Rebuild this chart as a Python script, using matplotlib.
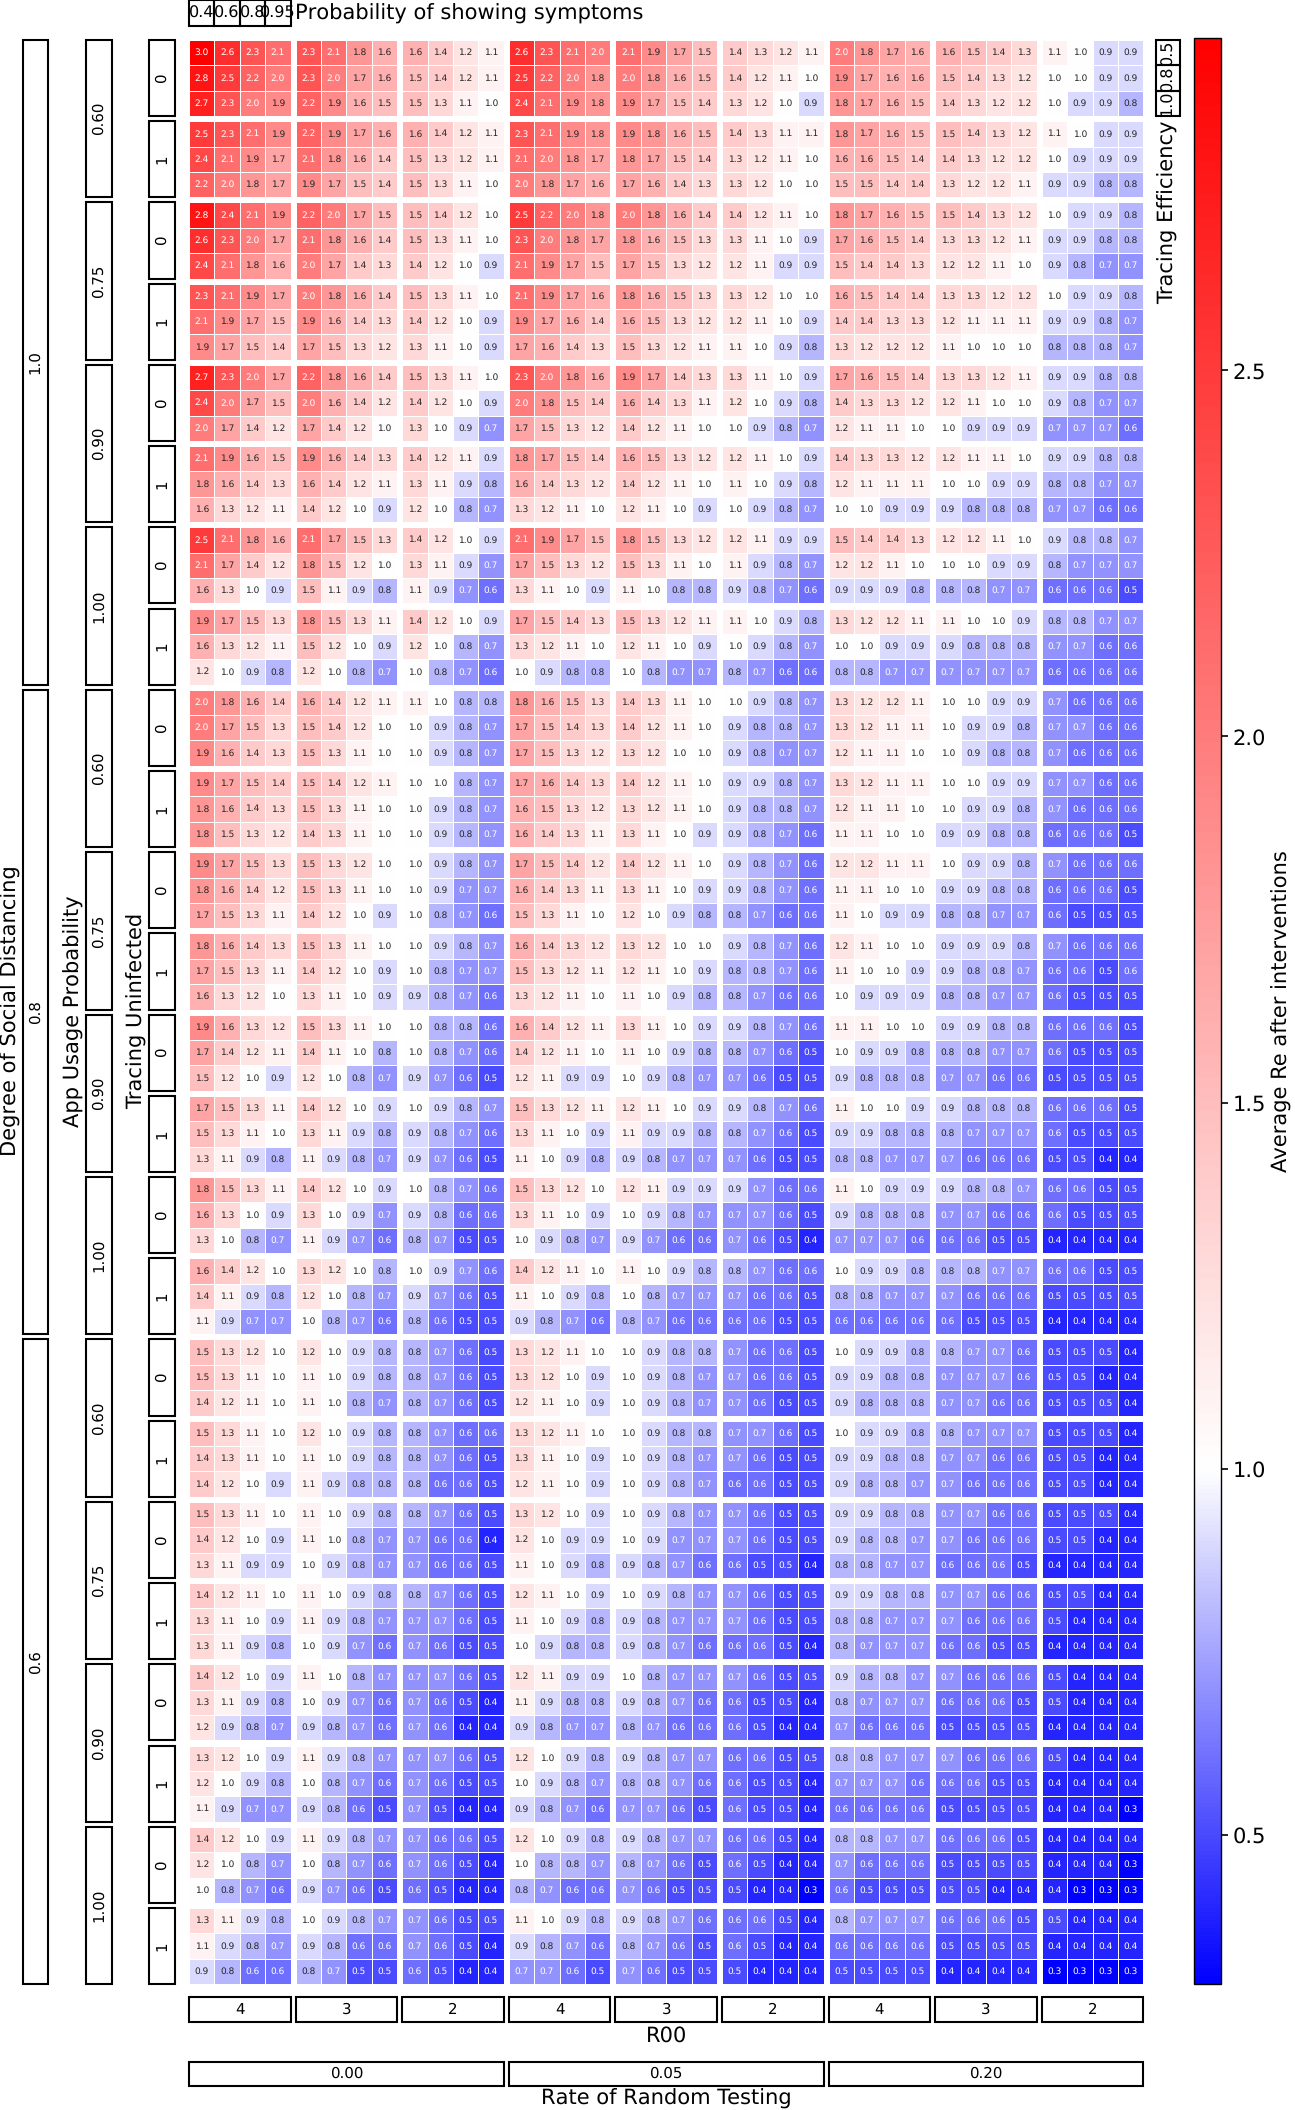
import numpy as np
import matplotlib
matplotlib.use('Agg')
import matplotlib.pyplot as plt
from matplotlib.colors import TwoSlopeNorm
from matplotlib.patches import Rectangle

plt.rcParams['text.hinting'] = 'no_hinting'
plt.rcParams['text.hinting_factor'] = 1

# values, 18 rows x 12 columns per chunk
re_a1 = [
[3.0,2.6,2.3,2.1,2.3,2.1,1.8,1.6,1.6,1.4,1.2,1.1],
[2.8,2.5,2.2,2.0,2.3,2.0,1.7,1.6,1.5,1.4,1.2,1.1],
[2.7,2.3,2.0,1.9,2.2,1.9,1.6,1.5,1.5,1.3,1.1,1.0],
[2.5,2.3,2.1,1.9,2.2,1.9,1.7,1.6,1.6,1.4,1.2,1.1],
[2.4,2.1,1.9,1.7,2.1,1.8,1.6,1.4,1.5,1.3,1.2,1.1],
[2.2,2.0,1.8,1.7,1.9,1.7,1.5,1.4,1.5,1.3,1.1,1.0],
[2.8,2.4,2.1,1.9,2.2,2.0,1.7,1.5,1.5,1.4,1.2,1.0],
[2.6,2.3,2.0,1.7,2.1,1.8,1.6,1.4,1.5,1.3,1.1,1.0],
[2.4,2.1,1.8,1.6,2.0,1.7,1.4,1.3,1.4,1.2,1.0,0.9],
[2.3,2.1,1.9,1.7,2.0,1.8,1.6,1.4,1.5,1.3,1.1,1.0],
[2.1,1.9,1.7,1.5,1.9,1.6,1.4,1.3,1.4,1.2,1.0,0.9],
[1.9,1.7,1.5,1.4,1.7,1.5,1.3,1.2,1.3,1.1,1.0,0.9],
[2.7,2.3,2.0,1.7,2.2,1.8,1.6,1.4,1.5,1.3,1.1,1.0],
[2.4,2.0,1.7,1.5,2.0,1.6,1.4,1.2,1.4,1.2,1.0,0.9],
[2.0,1.7,1.4,1.2,1.7,1.4,1.2,1.0,1.3,1.0,0.9,0.7],
[2.1,1.9,1.6,1.5,1.9,1.6,1.4,1.3,1.4,1.2,1.1,0.9],
[1.8,1.6,1.4,1.3,1.6,1.4,1.2,1.1,1.3,1.1,0.9,0.8],
[1.6,1.3,1.2,1.1,1.4,1.2,1.0,0.9,1.2,1.0,0.8,0.7],
]
re_a2 = [
[2.6,2.3,2.1,2.0,2.1,1.9,1.7,1.5,1.4,1.3,1.2,1.1],
[2.5,2.2,2.0,1.8,2.0,1.8,1.6,1.5,1.4,1.2,1.1,1.0],
[2.4,2.1,1.9,1.8,1.9,1.7,1.5,1.4,1.3,1.2,1.0,0.9],
[2.3,2.1,1.9,1.8,1.9,1.8,1.6,1.5,1.4,1.3,1.1,1.1],
[2.1,2.0,1.8,1.7,1.8,1.7,1.5,1.4,1.3,1.2,1.1,1.0],
[2.0,1.8,1.7,1.6,1.7,1.6,1.4,1.3,1.3,1.2,1.0,1.0],
[2.5,2.2,2.0,1.8,2.0,1.8,1.6,1.4,1.4,1.2,1.1,1.0],
[2.3,2.0,1.8,1.7,1.8,1.6,1.5,1.3,1.3,1.1,1.0,0.9],
[2.1,1.9,1.7,1.5,1.7,1.5,1.3,1.2,1.2,1.1,0.9,0.9],
[2.1,1.9,1.7,1.6,1.8,1.6,1.5,1.3,1.3,1.2,1.0,1.0],
[1.9,1.7,1.6,1.4,1.6,1.5,1.3,1.2,1.2,1.1,1.0,0.9],
[1.7,1.6,1.4,1.3,1.5,1.3,1.2,1.1,1.1,1.0,0.9,0.8],
[2.3,2.0,1.8,1.6,1.9,1.7,1.4,1.3,1.3,1.1,1.0,0.9],
[2.0,1.8,1.5,1.4,1.6,1.4,1.3,1.1,1.2,1.0,0.9,0.8],
[1.7,1.5,1.3,1.2,1.4,1.2,1.1,1.0,1.0,0.9,0.8,0.7],
[1.8,1.7,1.5,1.4,1.6,1.5,1.3,1.2,1.2,1.1,1.0,0.9],
[1.6,1.4,1.3,1.2,1.4,1.2,1.1,1.0,1.1,1.0,0.9,0.8],
[1.3,1.2,1.1,1.0,1.2,1.1,1.0,0.9,1.0,0.9,0.8,0.7],
]
re_a3 = [
[2.0,1.8,1.7,1.6,1.6,1.5,1.4,1.3,1.1,1.0,0.9,0.9],
[1.9,1.7,1.6,1.6,1.5,1.4,1.3,1.2,1.0,1.0,0.9,0.9],
[1.8,1.7,1.6,1.5,1.4,1.3,1.2,1.2,1.0,0.9,0.9,0.8],
[1.8,1.7,1.6,1.5,1.5,1.4,1.3,1.2,1.1,1.0,0.9,0.9],
[1.6,1.6,1.5,1.4,1.4,1.3,1.2,1.2,1.0,0.9,0.9,0.9],
[1.5,1.5,1.4,1.4,1.3,1.2,1.2,1.1,0.9,0.9,0.8,0.8],
[1.8,1.7,1.6,1.5,1.5,1.4,1.3,1.2,1.0,0.9,0.9,0.8],
[1.7,1.6,1.5,1.4,1.3,1.3,1.2,1.1,0.9,0.9,0.8,0.8],
[1.5,1.4,1.4,1.3,1.2,1.2,1.1,1.0,0.9,0.8,0.7,0.7],
[1.6,1.5,1.4,1.4,1.3,1.3,1.2,1.2,1.0,0.9,0.9,0.8],
[1.4,1.4,1.3,1.3,1.2,1.1,1.1,1.1,0.9,0.9,0.8,0.7],
[1.3,1.2,1.2,1.2,1.1,1.0,1.0,1.0,0.8,0.8,0.8,0.7],
[1.7,1.6,1.5,1.4,1.3,1.3,1.2,1.1,0.9,0.9,0.8,0.8],
[1.4,1.3,1.3,1.2,1.2,1.1,1.0,1.0,0.9,0.8,0.7,0.7],
[1.2,1.1,1.1,1.0,1.0,0.9,0.9,0.9,0.7,0.7,0.7,0.6],
[1.4,1.3,1.3,1.2,1.2,1.1,1.1,1.0,0.9,0.9,0.8,0.8],
[1.2,1.1,1.1,1.1,1.0,1.0,0.9,0.9,0.8,0.8,0.7,0.7],
[1.0,1.0,0.9,0.9,0.9,0.8,0.8,0.8,0.7,0.7,0.6,0.6],
]
re_b1 = [
[2.5,2.1,1.8,1.6,2.1,1.7,1.5,1.3,1.4,1.2,1.0,0.9],
[2.1,1.7,1.4,1.2,1.8,1.5,1.2,1.0,1.3,1.1,0.9,0.7],
[1.6,1.3,1.0,0.9,1.5,1.1,0.9,0.8,1.1,0.9,0.7,0.6],
[1.9,1.7,1.5,1.3,1.8,1.5,1.3,1.1,1.4,1.2,1.0,0.9],
[1.6,1.3,1.2,1.1,1.5,1.2,1.0,0.9,1.2,1.0,0.8,0.7],
[1.2,1.0,0.9,0.8,1.2,1.0,0.8,0.7,1.0,0.8,0.7,0.6],
[2.0,1.8,1.6,1.4,1.6,1.4,1.2,1.1,1.1,1.0,0.8,0.8],
[2.0,1.7,1.5,1.3,1.5,1.4,1.2,1.0,1.0,0.9,0.8,0.7],
[1.9,1.6,1.4,1.3,1.5,1.3,1.1,1.0,1.0,0.9,0.8,0.7],
[1.9,1.7,1.5,1.4,1.5,1.4,1.2,1.1,1.0,1.0,0.8,0.7],
[1.8,1.6,1.4,1.3,1.5,1.3,1.1,1.0,1.0,0.9,0.8,0.7],
[1.8,1.5,1.3,1.2,1.4,1.3,1.1,1.0,1.0,0.9,0.8,0.7],
[1.9,1.7,1.5,1.3,1.5,1.3,1.2,1.0,1.0,0.9,0.8,0.7],
[1.8,1.6,1.4,1.2,1.5,1.3,1.1,1.0,1.0,0.9,0.7,0.7],
[1.7,1.5,1.3,1.1,1.4,1.2,1.0,0.9,1.0,0.8,0.7,0.6],
[1.8,1.6,1.4,1.3,1.5,1.3,1.1,1.0,1.0,0.9,0.8,0.7],
[1.7,1.5,1.3,1.1,1.4,1.2,1.0,0.9,1.0,0.8,0.7,0.7],
[1.6,1.3,1.2,1.0,1.3,1.1,1.0,0.9,0.9,0.8,0.7,0.6],
]
re_b2 = [
[2.1,1.9,1.7,1.5,1.8,1.5,1.3,1.2,1.2,1.1,0.9,0.9],
[1.7,1.5,1.3,1.2,1.5,1.3,1.1,1.0,1.1,0.9,0.8,0.7],
[1.3,1.1,1.0,0.9,1.1,1.0,0.8,0.8,0.9,0.8,0.7,0.6],
[1.7,1.5,1.4,1.3,1.5,1.3,1.2,1.1,1.1,1.0,0.9,0.8],
[1.3,1.2,1.1,1.0,1.2,1.1,1.0,0.9,1.0,0.9,0.8,0.7],
[1.0,0.9,0.8,0.8,1.0,0.8,0.7,0.7,0.8,0.7,0.6,0.6],
[1.8,1.6,1.5,1.3,1.4,1.3,1.1,1.0,1.0,0.9,0.8,0.7],
[1.7,1.5,1.4,1.3,1.4,1.2,1.1,1.0,0.9,0.8,0.8,0.7],
[1.7,1.5,1.3,1.2,1.3,1.2,1.0,1.0,0.9,0.8,0.7,0.7],
[1.7,1.6,1.4,1.3,1.4,1.2,1.1,1.0,0.9,0.9,0.8,0.7],
[1.6,1.5,1.3,1.2,1.3,1.2,1.1,1.0,0.9,0.8,0.8,0.7],
[1.6,1.4,1.3,1.1,1.3,1.1,1.0,0.9,0.9,0.8,0.7,0.6],
[1.7,1.5,1.4,1.2,1.4,1.2,1.1,1.0,0.9,0.8,0.7,0.6],
[1.6,1.4,1.3,1.1,1.3,1.1,1.0,0.9,0.9,0.8,0.7,0.6],
[1.5,1.3,1.1,1.0,1.2,1.0,0.9,0.8,0.8,0.7,0.6,0.6],
[1.6,1.4,1.3,1.2,1.3,1.2,1.0,1.0,0.9,0.8,0.7,0.6],
[1.5,1.3,1.2,1.1,1.2,1.1,1.0,0.9,0.8,0.8,0.7,0.6],
[1.3,1.2,1.1,1.0,1.1,1.0,0.9,0.8,0.8,0.7,0.6,0.6],
]
re_b3 = [
[1.5,1.4,1.4,1.3,1.2,1.2,1.1,1.0,0.9,0.8,0.8,0.7],
[1.2,1.2,1.1,1.0,1.0,1.0,0.9,0.9,0.8,0.7,0.7,0.7],
[0.9,0.9,0.9,0.8,0.8,0.8,0.7,0.7,0.6,0.6,0.6,0.5],
[1.3,1.2,1.2,1.1,1.1,1.0,1.0,0.9,0.8,0.8,0.7,0.7],
[1.0,1.0,0.9,0.9,0.9,0.8,0.8,0.8,0.7,0.7,0.6,0.6],
[0.8,0.8,0.7,0.7,0.7,0.7,0.7,0.7,0.6,0.6,0.6,0.6],
[1.3,1.2,1.2,1.1,1.0,1.0,0.9,0.9,0.7,0.6,0.6,0.6],
[1.3,1.2,1.1,1.1,1.0,0.9,0.9,0.8,0.7,0.7,0.6,0.6],
[1.2,1.1,1.1,1.0,1.0,0.9,0.8,0.8,0.7,0.6,0.6,0.6],
[1.3,1.2,1.1,1.1,1.0,1.0,0.9,0.9,0.7,0.7,0.6,0.6],
[1.2,1.1,1.1,1.0,1.0,0.9,0.9,0.8,0.7,0.6,0.6,0.6],
[1.1,1.1,1.0,1.0,0.9,0.9,0.8,0.8,0.6,0.6,0.6,0.5],
[1.2,1.2,1.1,1.1,1.0,0.9,0.9,0.8,0.7,0.6,0.6,0.6],
[1.1,1.1,1.0,1.0,0.9,0.9,0.8,0.8,0.6,0.6,0.6,0.5],
[1.1,1.0,0.9,0.9,0.8,0.8,0.7,0.7,0.6,0.5,0.5,0.5],
[1.2,1.1,1.0,1.0,0.9,0.9,0.9,0.8,0.7,0.6,0.6,0.6],
[1.1,1.0,1.0,0.9,0.9,0.8,0.8,0.7,0.6,0.6,0.5,0.6],
[1.0,0.9,0.9,0.9,0.8,0.8,0.7,0.7,0.6,0.5,0.5,0.5],
]
re_c1 = [
[1.9,1.6,1.3,1.2,1.5,1.3,1.1,1.0,1.0,0.8,0.8,0.6],
[1.7,1.4,1.2,1.1,1.4,1.1,1.0,0.8,1.0,0.8,0.7,0.6],
[1.5,1.2,1.0,0.9,1.2,1.0,0.8,0.7,0.9,0.7,0.6,0.5],
[1.7,1.5,1.3,1.1,1.4,1.2,1.0,0.9,1.0,0.9,0.8,0.7],
[1.5,1.3,1.1,1.0,1.3,1.1,0.9,0.8,0.9,0.8,0.7,0.6],
[1.3,1.1,0.9,0.8,1.1,0.9,0.8,0.7,0.9,0.7,0.6,0.5],
[1.8,1.5,1.3,1.1,1.4,1.2,1.0,0.9,1.0,0.8,0.7,0.6],
[1.6,1.3,1.0,0.9,1.3,1.0,0.9,0.7,0.9,0.8,0.6,0.6],
[1.3,1.0,0.8,0.7,1.1,0.9,0.7,0.6,0.8,0.7,0.5,0.5],
[1.6,1.4,1.2,1.0,1.3,1.2,1.0,0.8,1.0,0.9,0.7,0.6],
[1.4,1.1,0.9,0.8,1.2,1.0,0.8,0.7,0.9,0.7,0.6,0.5],
[1.1,0.9,0.7,0.7,1.0,0.8,0.7,0.6,0.8,0.6,0.5,0.5],
[1.5,1.3,1.2,1.0,1.2,1.0,0.9,0.8,0.8,0.7,0.6,0.5],
[1.5,1.3,1.1,1.0,1.1,1.0,0.9,0.8,0.8,0.7,0.6,0.5],
[1.4,1.2,1.1,1.0,1.1,1.0,0.8,0.7,0.8,0.7,0.6,0.5],
[1.5,1.3,1.1,1.0,1.2,1.0,0.9,0.8,0.8,0.7,0.6,0.6],
[1.4,1.3,1.1,1.0,1.1,1.0,0.9,0.8,0.8,0.7,0.6,0.5],
[1.4,1.2,1.0,0.9,1.1,0.9,0.8,0.8,0.8,0.6,0.6,0.5],
]
re_c2 = [
[1.6,1.4,1.2,1.1,1.3,1.1,1.0,0.9,0.9,0.8,0.7,0.6],
[1.4,1.2,1.1,1.0,1.1,1.0,0.9,0.8,0.8,0.7,0.6,0.5],
[1.2,1.1,0.9,0.9,1.0,0.9,0.8,0.7,0.7,0.6,0.5,0.5],
[1.5,1.3,1.2,1.1,1.2,1.1,1.0,0.9,0.9,0.8,0.7,0.6],
[1.3,1.1,1.0,0.9,1.1,0.9,0.9,0.8,0.8,0.7,0.6,0.5],
[1.1,1.0,0.9,0.8,0.9,0.8,0.7,0.7,0.7,0.6,0.5,0.5],
[1.5,1.3,1.2,1.0,1.2,1.1,0.9,0.9,0.9,0.7,0.6,0.6],
[1.3,1.1,1.0,0.9,1.0,0.9,0.8,0.7,0.7,0.7,0.6,0.5],
[1.0,0.9,0.8,0.7,0.9,0.7,0.6,0.6,0.7,0.6,0.5,0.4],
[1.4,1.2,1.1,1.0,1.1,1.0,0.9,0.8,0.8,0.7,0.6,0.6],
[1.1,1.0,0.9,0.8,1.0,0.8,0.7,0.7,0.7,0.6,0.6,0.5],
[0.9,0.8,0.7,0.6,0.8,0.7,0.6,0.6,0.6,0.6,0.5,0.5],
[1.3,1.2,1.1,1.0,1.0,0.9,0.8,0.8,0.7,0.6,0.6,0.5],
[1.3,1.2,1.0,0.9,1.0,0.9,0.8,0.7,0.7,0.6,0.6,0.5],
[1.2,1.1,1.0,0.9,1.0,0.9,0.8,0.7,0.7,0.6,0.5,0.5],
[1.3,1.2,1.1,1.0,1.0,0.9,0.8,0.8,0.7,0.7,0.6,0.5],
[1.3,1.1,1.0,0.9,1.0,0.9,0.8,0.7,0.7,0.6,0.5,0.5],
[1.2,1.1,1.0,0.9,1.0,0.9,0.8,0.7,0.6,0.6,0.5,0.5],
]
re_c3 = [
[1.1,1.1,1.0,1.0,0.9,0.9,0.8,0.8,0.6,0.6,0.6,0.5],
[1.0,0.9,0.9,0.8,0.8,0.8,0.7,0.7,0.6,0.5,0.5,0.5],
[0.9,0.8,0.8,0.8,0.7,0.7,0.6,0.6,0.5,0.5,0.5,0.5],
[1.1,1.0,1.0,0.9,0.9,0.8,0.8,0.8,0.6,0.6,0.6,0.5],
[0.9,0.9,0.8,0.8,0.8,0.7,0.7,0.7,0.6,0.5,0.5,0.5],
[0.8,0.8,0.7,0.7,0.7,0.6,0.6,0.6,0.5,0.5,0.4,0.4],
[1.1,1.0,0.9,0.9,0.9,0.8,0.8,0.7,0.6,0.6,0.5,0.5],
[0.9,0.8,0.8,0.8,0.7,0.7,0.6,0.6,0.6,0.5,0.5,0.5],
[0.7,0.7,0.7,0.6,0.6,0.6,0.5,0.5,0.4,0.4,0.4,0.4],
[1.0,0.9,0.9,0.8,0.8,0.8,0.7,0.7,0.6,0.6,0.5,0.5],
[0.8,0.8,0.7,0.7,0.7,0.6,0.6,0.6,0.5,0.5,0.5,0.5],
[0.6,0.6,0.6,0.6,0.6,0.5,0.5,0.5,0.4,0.4,0.4,0.4],
[1.0,0.9,0.9,0.8,0.8,0.7,0.7,0.6,0.5,0.5,0.5,0.4],
[0.9,0.9,0.8,0.8,0.7,0.7,0.7,0.6,0.5,0.5,0.4,0.4],
[0.9,0.8,0.8,0.8,0.7,0.7,0.6,0.6,0.5,0.5,0.5,0.4],
[1.0,0.9,0.9,0.8,0.8,0.7,0.7,0.7,0.5,0.5,0.5,0.4],
[0.9,0.9,0.8,0.8,0.7,0.7,0.6,0.6,0.5,0.5,0.4,0.4],
[0.9,0.8,0.8,0.7,0.7,0.6,0.6,0.6,0.5,0.5,0.4,0.4],
]
re_d1 = [
[1.5,1.3,1.1,1.0,1.1,1.0,0.9,0.8,0.8,0.7,0.6,0.5],
[1.4,1.2,1.0,0.9,1.1,1.0,0.8,0.7,0.7,0.6,0.6,0.4],
[1.3,1.1,0.9,0.9,1.0,0.9,0.8,0.7,0.7,0.6,0.6,0.5],
[1.4,1.2,1.1,1.0,1.1,1.0,0.9,0.8,0.8,0.7,0.6,0.5],
[1.3,1.1,1.0,0.9,1.1,0.9,0.8,0.7,0.7,0.7,0.6,0.5],
[1.3,1.1,0.9,0.8,1.0,0.9,0.7,0.6,0.7,0.6,0.5,0.5],
[1.4,1.2,1.0,0.9,1.1,1.0,0.8,0.7,0.7,0.7,0.6,0.5],
[1.3,1.1,0.9,0.8,1.0,0.9,0.7,0.6,0.7,0.6,0.5,0.4],
[1.2,0.9,0.8,0.7,0.9,0.8,0.7,0.6,0.7,0.6,0.4,0.4],
[1.3,1.2,1.0,0.9,1.1,0.9,0.8,0.7,0.7,0.7,0.6,0.5],
[1.2,1.0,0.9,0.8,1.0,0.8,0.7,0.6,0.7,0.6,0.5,0.5],
[1.1,0.9,0.7,0.7,0.9,0.8,0.6,0.5,0.7,0.5,0.4,0.4],
[1.4,1.2,1.0,0.9,1.1,0.9,0.8,0.7,0.7,0.6,0.6,0.5],
[1.2,1.0,0.8,0.7,1.0,0.8,0.7,0.6,0.7,0.6,0.5,0.4],
[1.0,0.8,0.7,0.6,0.9,0.7,0.6,0.5,0.6,0.5,0.4,0.4],
[1.3,1.1,0.9,0.8,1.0,0.9,0.8,0.7,0.7,0.6,0.5,0.5],
[1.1,0.9,0.8,0.7,0.9,0.8,0.6,0.6,0.7,0.6,0.5,0.4],
[0.9,0.8,0.6,0.6,0.8,0.7,0.5,0.5,0.6,0.5,0.4,0.4],
]
re_d2 = [
[1.3,1.2,1.0,0.9,1.0,0.9,0.8,0.7,0.7,0.6,0.5,0.5],
[1.2,1.0,0.9,0.9,1.0,0.9,0.7,0.7,0.7,0.6,0.5,0.5],
[1.1,1.0,0.9,0.8,0.9,0.8,0.7,0.6,0.6,0.5,0.5,0.4],
[1.2,1.1,1.0,0.9,1.0,0.9,0.8,0.7,0.7,0.6,0.5,0.5],
[1.1,1.0,0.9,0.8,0.9,0.8,0.7,0.7,0.7,0.6,0.5,0.5],
[1.0,0.9,0.8,0.8,0.9,0.8,0.7,0.6,0.6,0.6,0.5,0.4],
[1.2,1.1,0.9,0.9,1.0,0.8,0.7,0.7,0.7,0.6,0.5,0.5],
[1.1,0.9,0.8,0.8,0.9,0.8,0.7,0.6,0.6,0.5,0.5,0.4],
[0.9,0.8,0.7,0.7,0.8,0.7,0.6,0.6,0.6,0.5,0.4,0.4],
[1.2,1.0,0.9,0.8,0.9,0.8,0.7,0.7,0.6,0.6,0.5,0.5],
[1.0,0.9,0.8,0.7,0.8,0.8,0.7,0.6,0.6,0.5,0.5,0.4],
[0.9,0.8,0.7,0.6,0.7,0.7,0.6,0.5,0.6,0.5,0.5,0.4],
[1.2,1.0,0.9,0.8,0.9,0.8,0.7,0.7,0.6,0.6,0.5,0.4],
[1.0,0.8,0.8,0.7,0.8,0.7,0.6,0.5,0.6,0.5,0.4,0.4],
[0.8,0.7,0.6,0.6,0.7,0.6,0.5,0.5,0.5,0.4,0.4,0.3],
[1.1,1.0,0.9,0.8,0.9,0.8,0.7,0.6,0.6,0.6,0.5,0.4],
[0.9,0.8,0.7,0.6,0.8,0.7,0.6,0.5,0.6,0.5,0.4,0.4],
[0.7,0.7,0.6,0.5,0.7,0.6,0.5,0.5,0.5,0.4,0.4,0.4],
]
re_d3 = [
[0.9,0.9,0.8,0.8,0.7,0.7,0.6,0.6,0.5,0.5,0.5,0.4],
[0.9,0.8,0.8,0.7,0.7,0.6,0.6,0.6,0.5,0.5,0.4,0.4],
[0.8,0.8,0.7,0.7,0.6,0.6,0.6,0.5,0.4,0.4,0.4,0.4],
[0.9,0.9,0.8,0.8,0.7,0.7,0.6,0.6,0.5,0.5,0.4,0.4],
[0.8,0.8,0.7,0.7,0.7,0.6,0.6,0.6,0.5,0.4,0.4,0.4],
[0.8,0.7,0.7,0.7,0.6,0.6,0.5,0.5,0.4,0.4,0.4,0.4],
[0.9,0.8,0.8,0.7,0.7,0.6,0.6,0.6,0.5,0.4,0.4,0.4],
[0.8,0.7,0.7,0.7,0.6,0.6,0.6,0.5,0.5,0.4,0.4,0.4],
[0.7,0.6,0.6,0.6,0.5,0.5,0.5,0.5,0.4,0.4,0.4,0.4],
[0.8,0.8,0.7,0.7,0.7,0.6,0.6,0.6,0.5,0.4,0.4,0.4],
[0.7,0.7,0.7,0.6,0.6,0.6,0.5,0.5,0.4,0.4,0.4,0.4],
[0.6,0.6,0.6,0.6,0.5,0.5,0.5,0.5,0.4,0.4,0.4,0.3],
[0.8,0.8,0.7,0.7,0.6,0.6,0.6,0.5,0.4,0.4,0.4,0.4],
[0.7,0.6,0.6,0.6,0.5,0.5,0.5,0.5,0.4,0.4,0.4,0.3],
[0.6,0.5,0.5,0.5,0.5,0.5,0.4,0.4,0.4,0.3,0.3,0.3],
[0.8,0.7,0.7,0.7,0.6,0.6,0.6,0.5,0.5,0.4,0.4,0.4],
[0.6,0.6,0.6,0.6,0.5,0.5,0.5,0.5,0.4,0.4,0.4,0.4],
[0.5,0.5,0.5,0.5,0.4,0.4,0.4,0.4,0.3,0.3,0.3,0.3],
]

social_distancing = ['1.0', '0.8', '0.6']
app_usage = ['0.60', '0.75', '0.90', '1.00']
tracing_uninfected = ['0', '1']
tracing_efficiency = ['0.5', '0.8', '1.0']
r00 = ['4', '3', '2']
random_testing = ['0.00', '0.05', '0.20']
symptoms = ['0.4', '0.6', '0.8', '0.95']
cbar_ticks = [0.5, 1.0, 1.5, 2.0, 2.5]

values = np.block([[np.array(re_a1), np.array(re_a2), np.array(re_a3)],
                   [np.array(re_b1), np.array(re_b2), np.array(re_b3)],
                   [np.array(re_c1), np.array(re_c2), np.array(re_c3)],
                   [np.array(re_d1), np.array(re_d2), np.array(re_d3)]])

W, H = 1295, 2110
X0, Y0, CELL = 189.0, 40.0, 25.38   # pixel position of the grid
GAP = 0.2                           # gap between blocks, in cells
LW = 1.5
LABEL = 15.3

def rect(x0, y0, x1, y1):
    return [x0 / W, 1 - y1 / H, (x1 - x0) / W, (y1 - y0) / H]

def lum(rgba):
    c = np.array(rgba[:3])
    c = np.where(c <= .03928, c / 12.92, ((c + .055) / 1.055) ** 2.4)
    return c.dot([.2126, .7152, .0722])

fig = plt.figure(figsize=(W / 100, H / 100), dpi=100)
norm = TwoSlopeNorm(vcenter=1.0, vmin=0.296, vmax=2.954)
cmap = plt.get_cmap('bwr')

nrows_blocks, ncols_blocks = 24, 9
grid_w = ncols_blocks * (4 + GAP) - GAP
grid_h = nrows_blocks * (3 + GAP) - GAP
ax = fig.add_axes(rect(X0, Y0, X0 + grid_w * CELL, Y0 + grid_h * CELL))
ax.set_xlim(0, grid_w)
ax.set_ylim(grid_h, 0)
ax.axis('off')

for i in range(nrows_blocks):
    for j in range(ncols_blocks):
        xs = j * (4 + GAP) + np.arange(5)
        ys = i * (3 + GAP) + np.arange(4)
        block = values[i * 3:i * 3 + 3, j * 4:j * 4 + 4]
        mesh = ax.pcolormesh(xs, ys, block, cmap=cmap, norm=norm,
                             edgecolors='white', linewidth=0.55)
        for r in range(3):
            for c in range(4):
                v = block[r, c]
                col = 'w' if lum(cmap(norm(v))) < .408 else '.15'
                ax.text(xs[c] + .5, ys[r] + .5, '%.1f' % v, ha='center',
                        va='center', fontsize=6.2, color=col)

# overlay in pixels for the header boxes and labels
ov = fig.add_axes([0, 0, 1, 1])
ov.set_xlim(0, W)
ov.set_ylim(H, 0)
ov.axis('off')
ov.patch.set_alpha(0)

def box(x0, y0, x1, y1, label, size=10.5, rotation=0):
    ov.add_patch(Rectangle((x0, y0), x1 - x0, y1 - y0, fill=False,
                           edgecolor='black', linewidth=LW, clip_on=False))
    ov.text((x0 + x1) / 2, (y0 + y1) / 2, label, ha='center', va='center',
            fontsize=size, rotation=rotation, color='black')

def row_px(k):
    return Y0 + k * (3 + GAP) * CELL

def col_px(k):
    return X0 + k * (4 + GAP) * CELL

edge = GAP * CELL

# left side headers
for n, s in enumerate(social_distancing):
    box(23, row_px(n * 8), 48, row_px(n * 8 + 8) - edge, s, rotation=90)
for n in range(12):
    box(86, row_px(n * 2), 112, row_px(n * 2 + 2) - edge,
        app_usage[n % 4], rotation=90)
for n in range(24):
    box(149, row_px(n), 175, row_px(n + 1) - edge,
        tracing_uninfected[n % 2], rotation=90)

# bottom headers
for n in range(9):
    box(col_px(n), 1997, col_px(n + 1) - edge, 2022, r00[n % 3])
for n, s in enumerate(random_testing):
    box(col_px(n * 3), 2062, col_px(n * 3 + 3) - edge, 2086, s)

# top headers, first block only
for n, s in enumerate(symptoms):
    box(X0 + n * CELL, 0, X0 + (n + 1) * CELL, 26, s, size=11.5)
ov.text(295, 14, 'Probability of showing symptoms', ha='left', va='center', fontsize=LABEL)

# right headers, first block only
for n, s in enumerate(tracing_efficiency):
    box(1156, Y0 + n * CELL, 1180, Y0 + (n + 1) * CELL, s, size=11.5, rotation=90)
ov.text(1168, 304, 'Tracing Efficiency', ha='center', va='bottom', rotation=90, fontsize=LABEL)

ov.text(11, 1011, 'Degree of Social Distancing', ha='center', va='center', rotation=90, fontsize=LABEL)
ov.text(74, 1011, 'App Usage Probability', ha='center', va='center', rotation=90, fontsize=LABEL)
ov.text(137, 1011, 'Tracing Uninfected', ha='center', va='center', rotation=90, fontsize=LABEL)
ov.text(X0 + grid_w * CELL / 2, 2036, 'R00', ha='center', va='center', fontsize=LABEL)
ov.text(X0 + grid_w * CELL / 2, 2099, 'Rate of Random Testing', ha='center', va='center', fontsize=LABEL)

cax = fig.add_axes(rect(1194, Y0 - 2, 1221, Y0 + grid_h * CELL))
cb = fig.colorbar(mesh, cax=cax)
cb.ax.set_yscale('linear')
cb.set_ticks(cbar_ticks)
cb.ax.tick_params(labelsize=LABEL, length=5, width=1.2)
cb.outline.set_linewidth(1)
cb.set_label('Average Re after interventions', fontsize=LABEL, labelpad=4)

fig.savefig('out.png', dpi=100)
